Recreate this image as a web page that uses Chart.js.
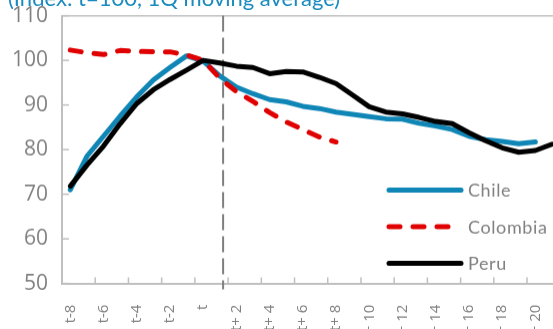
<!DOCTYPE html>
<html>
<head>
<meta charset="utf-8">
<script src="https://cdn.jsdelivr.net/npm/chart.js@4.4.0/dist/chart.umd.min.js"></script>
<style>
  body { margin: 0; overflow: hidden; background: #fff; }
  #wrap { position: relative; width: 553px; height: 329px; overflow: hidden; }
  #chart { position: absolute; left: 0; top: 0; }
  #title { position: absolute; left: 8px; top: -13.5px; font-family: Lato, sans-serif; font-size: 22px; line-height: 22px; color: #1a8bbf; white-space: nowrap; }
</style>
</head>
<body>
<div id="wrap">
  <canvas id="chart" width="583" height="345"></canvas>
  <div id="title">(Index: t=100, 1Q moving average)</div>
</div>
<script>
const quarters = ['t-8', 't-7', 't-6', 't-5', 't-4', 't-3', 't-2', 't-1', 't',
    't+ 1', 't+ 2', 't+ 3', 't+ 4', 't+ 5', 't+ 6', 't+ 7', 't+ 8', 't+ 9', 't+ 10',
    't+ 11', 't+ 12', 't+ 13', 't+ 14', 't+ 15', 't+ 16', 't+ 17', 't+ 18', 't+ 19', 't+ 20', 't+ 21'];

const chile = [71, 78.5, 83, 87.5, 91.8, 95.6, 98.4, 101, 99.8, 96.5, 94, 92.5, 91.2, 90.7, 89.7,
    89.2, 88.4, 87.9, 87.4, 86.9, 86.8, 85.9, 85.3, 84.5, 83, 82.2, 81.8, 81.3, 81.7];
const colombia = [102.3, 101.7, 101.3, 102.2, 102, 101.9, 101.9, 101.2, 100, 96, 93, 90.8, 88.3,
    86.2, 84.5, 82.8, 81.7];
const peru = [71.8, 76.5, 80.8, 85.8, 90.3, 93.4, 95.7, 97.8, 100, 99.4, 98.7, 98.4, 97, 97.5, 97.4,
    96.2, 94.8, 92.2, 89.6, 88.4, 88, 87.2, 86.3, 85.8, 83.8, 82, 80.4, 79.4, 79.8, 81.2];

const yTicks = [50, 60, 70, 80, 90, 100, 110];
const eventQuarter = 9.2;   // where the dashed marker sits on the quarter axis

const axisGrey = '#bfbfbf';
const textGrey = '#808080';

// plot box on the page: top edge and x-axis line
const plotTop = 16;
const plotBottom = 283;
const xAxisHeight = 62;

function strokeLine(ctx, x1, y1, x2, y2) {
    ctx.beginPath();
    ctx.moveTo(x1, y1);
    ctx.lineTo(x2, y2);
    ctx.stroke();
}

const decorations = {
    id: 'decorations',
    beforeDatasetsDraw(chart) {
        const { ctx, chartArea, scales: { x, y } } = chart;
        ctx.save();
        ctx.strokeStyle = axisGrey;
        ctx.lineWidth = 1.5;
        // inside tick marks
        yTicks.forEach(v => {
            const py = y.getPixelForValue(v);
            strokeLine(ctx, chartArea.left, py, chartArea.left + 7, py);
        });
        for (let i = 1; i <= 27; i += 2) {
            const px = x.getPixelForValue(i + 0.5);
            strokeLine(ctx, px, chartArea.bottom, px, chartArea.bottom - 6);
        }
        // dashed marker line
        ctx.strokeStyle = '#7f7f7f';
        ctx.lineWidth = 2;
        ctx.setLineDash([16, 6]);
        const mx = x.getPixelForValue(eventQuarter);
        strokeLine(ctx, mx, chartArea.top, mx, chartArea.bottom + 6);
        ctx.restore();
    },
    afterDraw(chart) {
        const { ctx, chartArea } = chart;
        const left = chartArea.left + 327;
        const top = chartArea.top + 174;
        ctx.save();
        ctx.font = '18px Lato, sans-serif';
        ctx.letterSpacing = '0.6px';
        ctx.textBaseline = 'middle';
        chart.data.datasets.forEach((ds, i) => {
            const ly = top + i * 36.5;
            ctx.strokeStyle = ds.borderColor;
            ctx.lineWidth = ds.borderWidth;
            ctx.lineCap = 'round';
            ctx.setLineDash(ds.borderDash || []);
            strokeLine(ctx, left, ly, left + 72, ly);
            ctx.setLineDash([]);
            ctx.fillStyle = textGrey;
            ctx.fillText(ds.label, left + 79, ly + 1);
        });
        ctx.restore();
    }
};

function makeChart() {
    const canvas = document.getElementById('chart');
    const chart = new Chart(canvas.getContext('2d'), {
        type: 'line',
        data: {
            labels: quarters,
            datasets: [
                { label: 'Chile', data: chile, borderColor: '#0f86b5', borderWidth: 5, order: 2 },
                { label: 'Colombia', data: colombia, borderColor: '#e00000', borderWidth: 5,
                  borderDash: [11, 13], order: 1 },
                { label: 'Peru', data: peru, borderColor: '#000000', borderWidth: 5, order: 0 }
            ]
        },
        options: {
            responsive: false,
            maintainAspectRatio: false,
            animation: false,
            layout: { padding: { top: 12, right: 0, left: 0, bottom: 0 } },
            elements: {
                point: { radius: 0 },
                line: { tension: 0, borderCapStyle: 'round', borderJoinStyle: 'round' }
            },
            plugins: { legend: { display: false }, tooltip: { enabled: false } },
            scales: {
                x: {
                    offset: true,
                    afterFit: s => { s.height = xAxisHeight; },
                    grid: { display: false },
                    border: { color: axisGrey, width: 2 },
                    ticks: {
                        autoSkip: false,
                        minRotation: 90,
                        maxRotation: 90,
                        padding: 13,
                        color: textGrey,
                        font: { family: 'Open Sans', size: 15 },
                        callback: (val, i) => (i % 2 === 0 ? quarters[i] : '')
                    }
                },
                y: {
                    min: 50,
                    max: 110,
                    afterFit: s => { s.width = 62; },
                    grid: {
                        drawTicks: false,
                        lineWidth: 1.5,
                        color: c => (c.tick && c.tick.value === 110 ? axisGrey : 'rgba(0,0,0,0)')
                    },
                    border: { color: axisGrey, width: 2 },
                    ticks: {
                        stepSize: 10,
                        padding: 14,
                        color: textGrey,
                        font: { family: 'Open Sans', size: 21 }
                    }
                }
            }
        },
        plugins: [decorations]
    });

    // move the canvas so the plot box sits at plotTop..plotBottom
    const shift = plotTop - chart.chartArea.top;
    canvas.style.top = shift + 'px';
    chart.resize(583, plotBottom + xAxisHeight - shift);
}

document.fonts.load('21px "Open Sans"').then(makeChart, makeChart);
</script>
</body>
</html>
